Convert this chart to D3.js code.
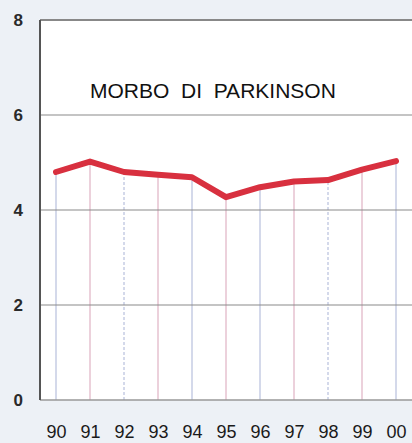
<!DOCTYPE html>
<html>
<head>
<meta charset="utf-8">
<script src="https://cdn.jsdelivr.net/npm/d3@7"></script>
<style>
  body { margin: 0; background: #edf1f6; }
</style>
</head>
<body>
<script>
// Data
const YEARS  = ['90', '91', '92', '93', '94', '95', '96', '97', '98', '99', '00'];
const VALUES = [4.80, 5.02, 4.80, 4.74, 4.69, 4.27, 4.48, 4.60, 4.63, 4.85, 5.03];
const Y_TICKS = [0, 2, 4, 6, 8];
const TITLE = 'MORBO  DI  PARKINSON';

// Dimensions
const W = 412, H = 443;
const margin = { top: 20, right: -2, bottom: 43, left: 40 };
const FIG_W = W - margin.left - margin.right;
const FIG_H = H - margin.top - margin.bottom;

// Colors
const BG   = '#edf1f6';
const PLOT = '#ffffff';
const LINE = '#d8303f';
const GRID = '#8a8a8a';
const FONT = "'Liberation Sans', Arial, sans-serif";

const x = d3.scalePoint()
  .domain(YEARS)
  .range([16, 356]);

const y = d3.scaleLinear()
  .domain([0, 8])
  .range([FIG_H, 0]);

const svg = d3.select('body').append('svg')
  .attr('width', W)
  .attr('height', H);

svg.append('rect')
  .attr('width', W).attr('height', H)
  .attr('fill', BG);

const g = svg.append('g')
  .attr('transform', `translate(${margin.left},${margin.top})`);

g.append('rect')
  .attr('width', FIG_W).attr('height', FIG_H)
  .attr('fill', PLOT);

// vertical grid, alternating pinkish / bluish tints
g.append('g')
  .selectAll('line')
  .data(YEARS)
  .join('line')
  .attr('x1', d => x(d)).attr('x2', d => x(d))
  .attr('y1', FIG_H).attr('y2', d => y(VALUES[YEARS.indexOf(d)]))
  .attr('stroke', (d, i) => i % 2 ? '#d9a3b8' : '#a9b3d6')
  .attr('stroke-width', 1)
  .attr('stroke-dasharray', (d, i) => (i === 2 || i === 8) ? '3,2' : null);

// horizontal grid
g.append('g')
  .selectAll('line')
  .data(Y_TICKS.filter(d => d > 0 && d < 8))
  .join('line')
  .attr('x1', 0).attr('x2', FIG_W)
  .attr('y1', d => y(d)).attr('y2', d => y(d))
  .attr('stroke', GRID)
  .attr('stroke-width', 1.2);

// frame: top, bottom, left
g.append('line')
  .attr('x1', 0).attr('x2', FIG_W)
  .attr('y1', y(8)).attr('y2', y(8))
  .attr('stroke', '#888').attr('stroke-width', 2);
g.append('line')
  .attr('x1', 0).attr('x2', FIG_W)
  .attr('y1', y(0)).attr('y2', y(0))
  .attr('stroke', '#999').attr('stroke-width', 1.5);
g.append('line')
  .attr('x1', 0).attr('x2', 0)
  .attr('y1', y(0)).attr('y2', y(8))
  .attr('stroke', '#555').attr('stroke-width', 2);

// Axes
const yAxis = g => {
  g
    .call(d3.axisLeft(y).tickValues(Y_TICKS).tickSize(0).tickPadding(17))
    .call(g => g.select('.domain').remove())
    .call(g => g.selectAll('text')
      .attr('font-size', '17px')
      .attr('font-family', FONT)
      .attr('font-weight', 'bold')
      .attr('fill', '#2a2a2a'));
};
const xAxis = g => {
  g
    .attr('transform', `translate(0,${FIG_H})`)
    .call(d3.axisBottom(x).tickSize(0).tickPadding(25))
    .call(g => g.select('.domain').remove())
    .call(g => g.selectAll('text')
      .attr('font-size', '18px')
      .attr('font-family', FONT)
      .attr('fill', '#1a1a1a'));
};
g.append('g').call(yAxis);
g.append('g').call(xAxis);

// Series line
const line = d3.line()
  .x((d, i) => x(YEARS[i]))
  .y(d => y(d));

g.append('path')
  .datum(VALUES)
  .attr('d', line)
  .attr('fill', 'none')
  .attr('stroke', LINE)
  .attr('stroke-width', 6)
  .attr('stroke-linejoin', 'round')
  .attr('stroke-linecap', 'round');

// Title
g.append('text')
  .attr('x', 50)
  .attr('y', 78)
  .style('white-space', 'pre')
  .attr('font-family', FONT)
  .attr('font-size', '21px')
  .attr('fill', '#111')
  .text(TITLE);
</script>
</body>
</html>
